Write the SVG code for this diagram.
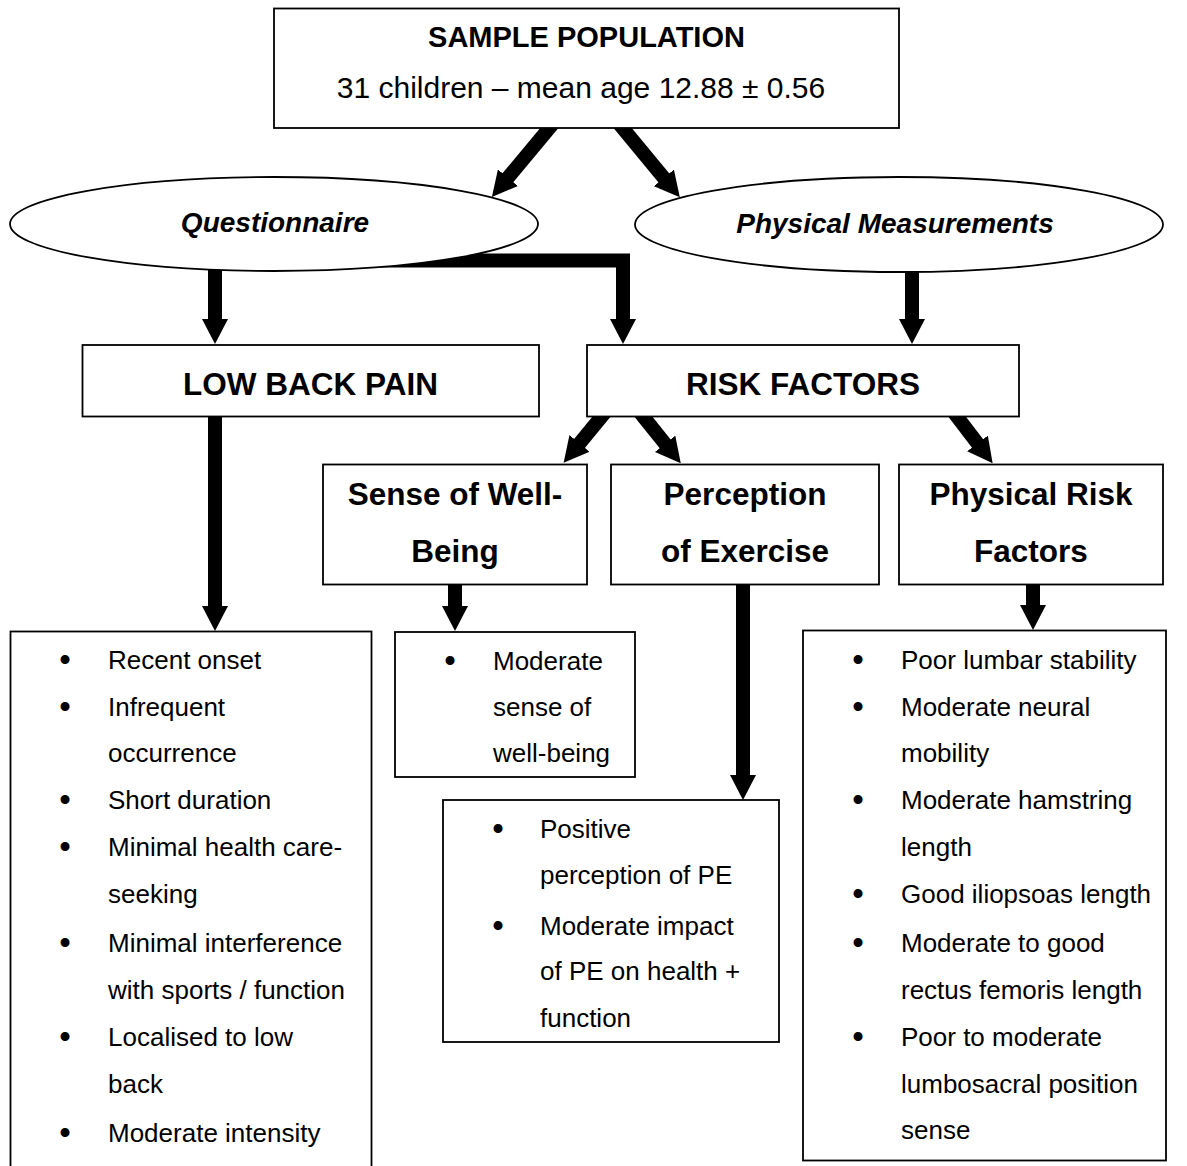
<svg xmlns="http://www.w3.org/2000/svg" width="1187" height="1166" viewBox="0 0 1187 1166">
<defs>
<marker id="ah" markerUnits="userSpaceOnUse" viewBox="0 0 25 26" refX="3" refY="13" markerWidth="25" markerHeight="26" orient="auto">
<path d="M0,0 L25,13 L0,26 Z" fill="#000"/>
</marker>
<style>
.box{fill:#fff;stroke:#000;stroke-width:1.8}
.ell{fill:#fff;stroke:#000;stroke-width:1.8}
.con{fill:none;stroke:#000;stroke-width:14;stroke-linejoin:miter}
.arr{marker-end:url(#ah)}
text{font-family:"Liberation Sans",Arial,sans-serif;fill:#000}
.h{font-weight:bold;font-size:31.5px;text-anchor:middle}
.t{font-size:30px;text-anchor:middle}
.tb{font-weight:bold;font-size:29px;text-anchor:middle}
.e{font-weight:bold;font-style:italic;font-size:28px;text-anchor:middle}
.l{font-size:26px}
.b{font-size:33px;text-anchor:middle}
</style>
</defs>
<rect width="1187" height="1166" fill="#fff"/>
<g id="connectors">
<line class="con arr" x1="556" y1="120" x2="506" y2="180"/>
<line class="con arr" x1="616" y1="120" x2="665.8" y2="180.2"/>
<line class="con arr" x1="215" y1="262" x2="215" y2="322"/>
<path class="con arr" d="M380,260.5 H623 V322"/>
<line class="con arr" x1="912" y1="266" x2="912" y2="322"/>
<line class="con arr" x1="215" y1="410" x2="215" y2="609"/>
<line class="con arr" x1="607" y1="410" x2="577.6" y2="445.7"/>
<line class="con arr" x1="638" y1="410" x2="667" y2="446.1"/>
<line class="con arr" x1="952" y1="410" x2="979.3" y2="445.8"/>
<line class="con arr" x1="455" y1="580" x2="455" y2="609"/>
<line class="con arr" x1="743" y1="580" x2="743" y2="778"/>
<line class="con arr" x1="1033" y1="580" x2="1033" y2="608"/>
</g>
<g id="sample-population">
<rect class="box" x="274" y="8.5" width="625" height="119.5"/>
<text class="tb" x="586.5" y="47">SAMPLE POPULATION</text>
<text class="t" x="581" y="98">31 children – mean age 12.88 ± 0.56</text>
</g>
<g id="questionnaire">
<ellipse class="ell" cx="274" cy="224" rx="264" ry="47"/>
<text class="e" x="275" y="232">Questionnaire</text>
</g>
<g id="physical-measurements">
<ellipse class="ell" cx="899" cy="224.5" rx="264" ry="47.5"/>
<text class="e" x="895" y="233">Physical Measurements</text>
</g>
<g id="low-back-pain">
<rect class="box" x="82.5" y="345" width="456.5" height="71.5"/>
<text class="h" x="310.5" y="395">LOW BACK PAIN</text>
</g>
<g id="risk-factors">
<rect class="box" x="587" y="345" width="432" height="71.5"/>
<text class="h" x="803" y="395">RISK FACTORS</text>
</g>
<g id="sense-of-well-being">
<rect class="box" x="323" y="464.5" width="264" height="120"/>
<text class="h" x="455" y="505">Sense of Well-</text>
<text class="h" x="455" y="562">Being</text>
</g>
<g id="perception-of-exercise">
<rect class="box" x="611" y="464.5" width="268" height="120"/>
<text class="h" x="745" y="505">Perception</text>
<text class="h" x="745" y="562">of Exercise</text>
</g>
<g id="physical-risk-factors">
<rect class="box" x="899" y="464.5" width="264" height="120"/>
<text class="h" x="1031" y="505">Physical Risk</text>
<text class="h" x="1031" y="562">Factors</text>
</g>
<g id="lbp-list">
<rect class="box" x="10.5" y="631.5" width="361" height="545"/>
<text class="b" x="65" y="671">•</text><text class="l" x="108" y="669">Recent onset</text>
<text class="b" x="65" y="718">•</text><text class="l" x="108" y="716">Infrequent</text>
<text class="l" x="108" y="762">occurrence</text>
<text class="b" x="65" y="811">•</text><text class="l" x="108" y="809">Short duration</text>
<text class="b" x="65" y="858">•</text><text class="l" x="108" y="856">Minimal health care-</text>
<text class="l" x="108" y="903">seeking</text>
<text class="b" x="65" y="954">•</text><text class="l" x="108" y="952">Minimal interference</text>
<text class="l" x="108" y="999">with sports / function</text>
<text class="b" x="65" y="1048">•</text><text class="l" x="108" y="1046">Localised to low</text>
<text class="l" x="108" y="1093">back</text>
<text class="b" x="65" y="1144">•</text><text class="l" x="108" y="1142">Moderate intensity</text>
</g>
<g id="wellbeing-list">
<rect class="box" x="395" y="632" width="240" height="145"/>
<text class="b" x="450" y="672">•</text><text class="l" x="493" y="670">Moderate</text>
<text class="l" x="493" y="716">sense of</text>
<text class="l" x="493" y="762">well-being</text>
</g>
<g id="perception-list">
<rect class="box" x="443" y="800" width="336" height="242"/>
<text class="b" x="498" y="840">•</text><text class="l" x="540" y="838">Positive</text>
<text class="l" x="540" y="884">perception of PE</text>
<text class="b" x="498" y="937">•</text><text class="l" x="540" y="935">Moderate impact</text>
<text class="l" x="540" y="980">of PE on health +</text>
<text class="l" x="540" y="1027">function</text>
</g>
<g id="physical-list">
<rect class="box" x="803" y="630.5" width="363" height="530"/>
<text class="b" x="858" y="671">•</text><text class="l" x="901" y="669">Poor lumbar stability</text>
<text class="b" x="858" y="718">•</text><text class="l" x="901" y="716">Moderate neural</text>
<text class="l" x="901" y="762">mobility</text>
<text class="b" x="858" y="811">•</text><text class="l" x="901" y="809">Moderate hamstring</text>
<text class="l" x="901" y="856">length</text>
<text class="b" x="858" y="905">•</text><text class="l" x="901" y="903">Good iliopsoas length</text>
<text class="b" x="858" y="954">•</text><text class="l" x="901" y="952">Moderate to good</text>
<text class="l" x="901" y="999">rectus femoris length</text>
<text class="b" x="858" y="1048">•</text><text class="l" x="901" y="1046">Poor to moderate</text>
<text class="l" x="901" y="1093">lumbosacral position</text>
<text class="l" x="901" y="1139">sense</text>
</g>
</svg>
